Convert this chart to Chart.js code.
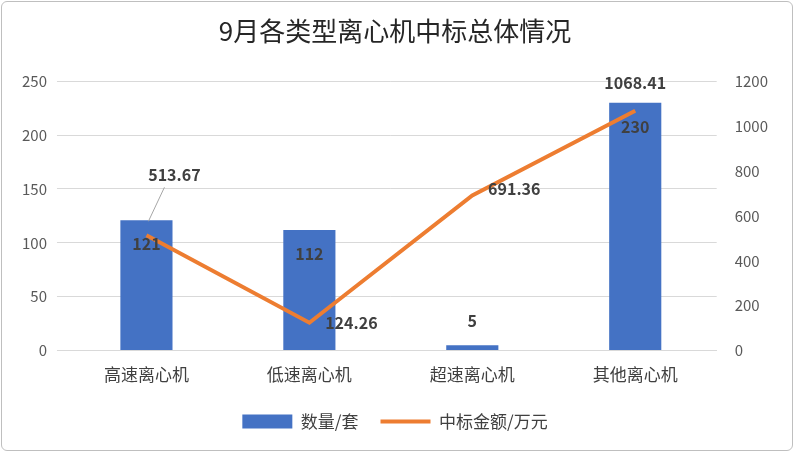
<!DOCTYPE html>
<html><head><meta charset="utf-8">
<script src="https://cdn.jsdelivr.net/npm/chart.js@4"></script>
<style>
body{margin:0;background:#fff;}
#wrap{position:absolute;left:1px;top:1px;width:790px;height:448px;border:1px solid #bfbfbf;border-radius:6px;}
</style></head><body>
<div id="wrap"><canvas id="c" width="790" height="448"></canvas></div>
<script>
const categories = ['高速离心机', '低速离心机', '超速离心机', '其他离心机'];
const counts = [121, 112, 5, 230];
const amounts = [513.67, 124.26, 691.36, 1068.41];
const leftTicks = [0, 50, 100, 150, 200, 250];
const rightTicks = [0, 200, 400, 600, 800, 1000, 1200];

const font = '"Microsoft YaHei","Noto Sans CJK SC",sans-serif';

// value labels drawn next to bars and line points
const labelPlugin = {
  id: 'labels',
  afterDatasetsDraw(chart) {
    const ctx = chart.ctx;
    ctx.save();
    ctx.font = 'bold 16px ' + font;
    ctx.fillStyle = '#404040';
    ctx.textAlign = 'center';
    ctx.textBaseline = 'middle';
    const bars = chart.getDatasetMeta(0).data;
    bars.forEach((b, i) => {
      const y = counts[i] < 20 ? b.y - 24 : b.y + 24;
      ctx.fillText(counts[i], b.x, y);
    });
    const pts = chart.getDatasetMeta(1).data;
    const offs = [[28, -60], [42, 0], [42, -6], [0, -28]];
    pts.forEach((p, i) => {
      ctx.fillText(amounts[i].toFixed(2), p.x + offs[i][0], p.y + offs[i][1]);
    });
    ctx.strokeStyle = '#a6a6a6';
    ctx.lineWidth = 1;
    ctx.beginPath();
    ctx.moveTo(pts[0].x + 2, pts[0].y - 14);
    ctx.lineTo(pts[0].x + 18, pts[0].y - 48);
    ctx.stroke();
    ctx.restore();
  }
};

new Chart(document.getElementById('c'), {
  data: {
    labels: categories,
    datasets: [
      { type: 'bar', label: '数量/套', data: counts, yAxisID: 'y', backgroundColor: '#4472C4', barPercentage: 0.32, categoryPercentage: 1, order: 2, pointStyle: 'rect' },
      { type: 'line', label: '中标金额/万元', data: amounts, yAxisID: 'y1', borderColor: '#ED7D31', backgroundColor: '#ED7D31', borderWidth: 4, pointRadius: 0, tension: 0, order: 1, pointStyle: 'line' }
    ]
  },
  options: {
    responsive: false,
    animation: false,
    layout: { padding: { left: 10, right: 14, top: 4, bottom: 10 } },
    plugins: {
      title: { display: true, text: '9月各类型离心机中标总体情况', color: '#262626', font: { family: font, size: 26, weight: 'normal' }, padding: { top: 10, bottom: 34 } },
      legend: { position: 'bottom', labels: { sort: (a, b) => a.datasetIndex - b.datasetIndex, usePointStyle: true, pointStyleWidth: 50, color: '#404040', font: { family: font, size: 17 }, boxHeight: 14, padding: 22 } },
      tooltip: { enabled: false }
    },
    scales: {
      x: { grid: { display: false }, border: { color: '#d9d9d9' }, ticks: { color: '#404040', font: { family: font, size: 17 }, padding: 6 } },
      y: { position: 'left', min: 0, max: 250, afterBuildTicks: s => { s.ticks = leftTicks.map(v => ({ value: v })); },
           grid: { color: '#d9d9d9' }, border: { display: false }, ticks: { color: '#595959', font: { family: font, size: 15 }, padding: 10 } },
      y1: { position: 'right', min: 0, max: 1200, afterBuildTicks: s => { s.ticks = rightTicks.map(v => ({ value: v })); },
           grid: { display: false }, border: { display: false }, ticks: { color: '#595959', font: { family: font, size: 15 }, padding: 10, callback: v => String(v) } }
    }
  },
  plugins: [labelPlugin]
});
</script>
</body></html>
